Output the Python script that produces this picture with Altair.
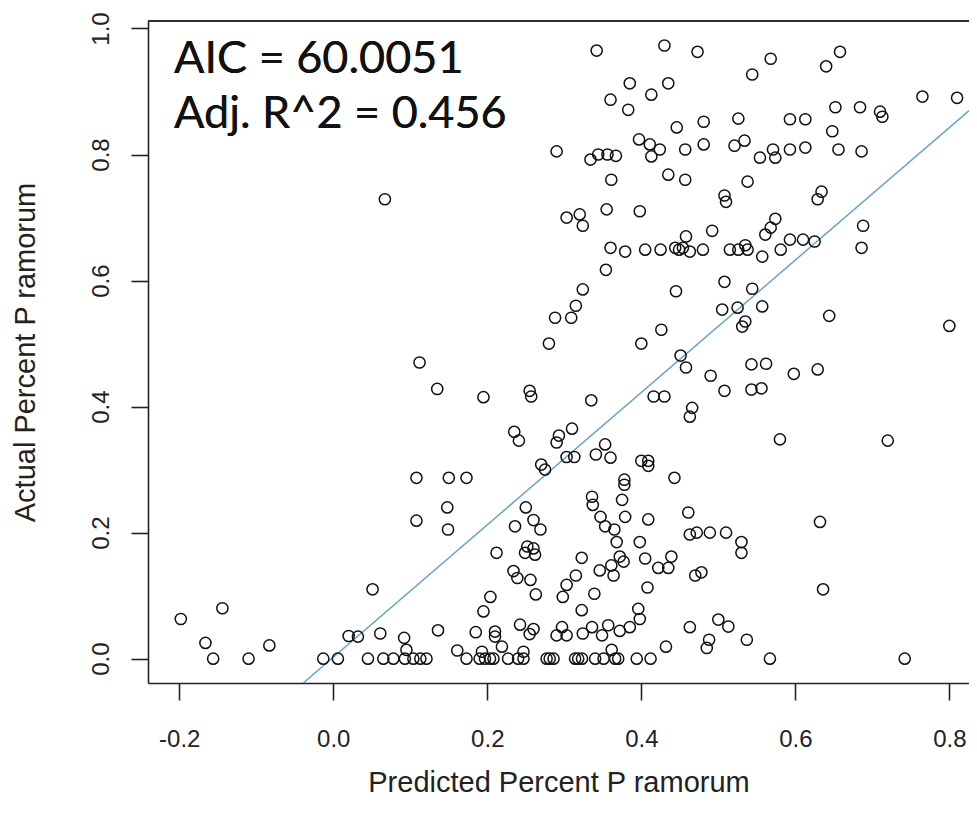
import altair as alt
import pandas as pd

# ---- data ----
pred = [
    -0.198, -0.144, -0.166, -0.156, -0.110, -0.083, 0.051, -0.013, 0.006, 0.020, 0.032, 0.061, 0.092, 0.095, 0.136,
    0.045, 0.065, 0.078, 0.093, 0.104, 0.113, 0.121,
    0.173, 0.190, 0.197, 0.2035, 0.208, 0.227, 0.240, 0.247, 0.277, 0.281, 0.286, 0.314, 0.318, 0.323, 0.340, 0.351,
    0.366, 0.370, 0.394, 0.412, 0.567, 0.742,
    0.161, 0.193, 0.219, 0.247, 0.3615, 0.432, 0.485, 0.488, 0.537,
    0.185, 0.210, 0.210, 0.2425, 0.255, 0.260, 0.290, 0.297, 0.303, 0.324, 0.336, 0.349, 0.357, 0.372, 0.385, 0.398,
    0.396, 0.463, 0.500, 0.513,
    0.195, 0.3226, 0.204, 0.263, 0.298, 0.339, 0.408, 0.303, 0.315, 0.234, 0.239, 0.256, 0.346, 0.361, 0.364, 0.372,
    0.377, 0.405, 0.422, 0.435, 0.439, 0.470, 0.478, 0.212, 0.249, 0.252, 0.3226, 0.368, 0.398, 0.530, 0.530,
    0.636, 0.632, 0.720, 0.800,
    # upper region
    0.342, 0.430, 0.473, 0.544, 0.568, 0.640, 0.658, 0.810, 0.360, 0.385, 0.413, 0.435, 0.383,
    0.290, 0.334, 0.344, 0.356, 0.367, 0.361, 0.397, 0.411, 0.413, 0.424, 0.435, 0.446, 0.457, 0.457, 0.481, 0.481,
    0.526, 0.521, 0.534, 0.538, 0.554, 0.571, 0.574, 0.593, 0.593, 0.613, 0.613, 0.648, 0.652, 0.656, 0.684, 0.686,
    0.710, 0.713, 0.765,
    0.067, 0.303, 0.320, 0.324, 0.355, 0.398, 0.354, 0.360, 0.379, 0.405, 0.425, 0.444, 0.449, 0.454, 0.458, 0.463,
    0.480, 0.492, 0.508, 0.510, 0.508, 0.515, 0.526, 0.535, 0.538, 0.557, 0.561, 0.568, 0.574, 0.581, 0.593, 0.610,
    0.625, 0.629, 0.634, 0.688, 0.686,
    0.280, 0.288, 0.309, 0.315, 0.324, 0.400, 0.426, 0.445, 0.505, 0.525, 0.535, 0.531, 0.544, 0.557, 0.543, 0.451,
    0.458, 0.490, 0.508, 0.543, 0.556, 0.562, 0.598, 0.629, 0.644, 0.416, 0.430, 0.112, 0.135, 0.195, 0.255, 0.257,
    0.335, 0.466, 0.463, 0.580,
    0.235, 0.241, 0.290, 0.293, 0.310, 0.270, 0.275, 0.303, 0.313, 0.341, 0.353, 0.360, 0.378, 0.378, 0.336, 0.337,
    0.347, 0.375, 0.379, 0.365, 0.353, 0.409, 0.409, 0.409, 0.400, 0.443, 0.461, 0.463, 0.472, 0.489, 0.510, 0.108,
    0.150, 0.173, 0.148, 0.149, 0.108, 0.250, 0.236, 0.260, 0.269, 0.260, 0.262,
]
actual = [
    0.063, 0.080, 0.025, 0.0, 0.0, 0.021, 0.110, 0.0, 0.0, 0.036, 0.035, 0.040, 0.033, 0.014, 0.045,
    0.0, 0.0, 0.0, 0.0, 0.0, 0.0, 0.0,
    0.0, 0.0, 0.0, 0.0, 0.0, 0.0, 0.0, 0.0, 0.0, 0.0, 0.0, 0.0, 0.0, 0.0, 0.0, 0.0,
    0.0, 0.0, 0.0, 0.0, 0.0, 0.0,
    0.013, 0.011, 0.019, 0.011, 0.014, 0.019, 0.017, 0.030, 0.030,
    0.042, 0.043, 0.035, 0.054, 0.039, 0.047, 0.037, 0.050, 0.037, 0.040, 0.050, 0.037, 0.053, 0.044, 0.050, 0.063,
    0.079, 0.050, 0.062, 0.051,
    0.075, 0.077, 0.098, 0.102, 0.098, 0.103, 0.113, 0.117, 0.132, 0.139, 0.128, 0.125, 0.140, 0.148, 0.132, 0.162,
    0.154, 0.159, 0.144, 0.144, 0.162, 0.132, 0.137, 0.168, 0.168, 0.178, 0.160, 0.185, 0.185, 0.185, 0.168,
    0.110, 0.217, 0.346, 0.528,
    0.965, 0.973, 0.963, 0.927, 0.952, 0.940, 0.963, 0.890, 0.887, 0.913, 0.895, 0.913, 0.871,
    0.805, 0.792, 0.800, 0.800, 0.798, 0.760, 0.824, 0.816, 0.797, 0.808, 0.768, 0.843, 0.808, 0.760, 0.852, 0.816,
    0.857, 0.814, 0.822, 0.757, 0.795, 0.808, 0.795, 0.856, 0.808, 0.856, 0.811, 0.837, 0.875, 0.808, 0.875, 0.805,
    0.868, 0.860, 0.892,
    0.729, 0.700, 0.705, 0.687, 0.713, 0.710, 0.617, 0.652, 0.646, 0.649, 0.649, 0.652, 0.649, 0.652, 0.670, 0.646,
    0.649, 0.679, 0.735, 0.725, 0.598, 0.649, 0.649, 0.656, 0.649, 0.638, 0.673, 0.684, 0.698, 0.649, 0.665, 0.665,
    0.662, 0.729, 0.741, 0.687, 0.652,
    0.500, 0.541, 0.541, 0.560, 0.586, 0.500, 0.522, 0.583, 0.554, 0.557, 0.535, 0.527, 0.587, 0.559, 0.467, 0.481,
    0.462, 0.449, 0.425, 0.427, 0.429, 0.468, 0.452, 0.459, 0.544, 0.416, 0.416, 0.470, 0.428, 0.415, 0.425, 0.416,
    0.410, 0.398, 0.384, 0.348,
    0.360, 0.346, 0.343, 0.354, 0.365, 0.308, 0.300, 0.320, 0.320, 0.324, 0.340, 0.319, 0.276, 0.284, 0.257, 0.244,
    0.225, 0.252, 0.225, 0.205, 0.210, 0.314, 0.306, 0.221, 0.314, 0.287, 0.232, 0.197, 0.200, 0.200, 0.200, 0.287,
    0.287, 0.287, 0.240, 0.205, 0.219, 0.240, 0.210, 0.220, 0.205, 0.175, 0.165,
]

# fitted line (read at both ends of the visible segment)
fit_x = [-0.039, 0.826]
fit_y = [-0.0386, 0.870]

x_ticks = [-0.2, 0.0, 0.2, 0.4, 0.6, 0.8]
y_ticks = [0.0, 0.2, 0.4, 0.6, 0.8, 1.0]

stats_line1 = "AIC = 60.0051"
stats_line2 = "Adj. R^2 = 0.456"

# ---- chart ----
W, H = 821, 662
X_DOM = [-0.2406, 0.8255]
Y_DOM = [-0.0386, 1.0119]

pts = pd.DataFrame({"pred": pred, "actual": actual})
fit = pd.DataFrame({"pred": fit_x, "actual": fit_y})

xscale = alt.Scale(domain=X_DOM, nice=False, zero=False)
yscale = alt.Scale(domain=Y_DOM, nice=False, zero=False)

label_expr = "datum.value < 0 ? '-' + format(-datum.value, '.1f') : format(datum.value, '.1f')"

xaxis = alt.Axis(
    title="Predicted Percent P ramorum", values=x_ticks, labelExpr=label_expr,
    grid=False, domainColor="#222", domainWidth=1.6, tickColor="#222", tickWidth=1.6, tickSize=17,
    labelFont="Liberation Sans", labelFontSize=24, labelColor="#222", labelPadding=27,
    titleFont="Liberation Sans", titleFontSize=29, titleFontWeight="normal", titleColor="#222",
    titlePadding=17, labelFlush=False,
)
yaxis = alt.Axis(
    title="Actual Percent P ramorum", values=y_ticks, labelExpr=label_expr,
    grid=False, domainColor="#222", domainWidth=1.6, tickColor="#222", tickWidth=1.6, tickSize=17,
    labelFont="Liberation Sans", labelFontSize=24, labelColor="#222", labelPadding=23,
    labelAngle=-90, labelAlign="center", labelBaseline="alphabetic", labelFlush=False,
    titleFont="Liberation Sans", titleFontSize=29, titleFontWeight="normal", titleColor="#222",
    titleAngle=-90, titleBaseline="alphabetic", titleX=-114, titleY=H / 2, titleAlign="center",
)

points = alt.Chart(pts).mark_point(
    shape="circle", filled=False, color="#111", size=125, strokeWidth=1.5, opacity=1
).encode(
    x=alt.X("pred:Q", scale=xscale, axis=xaxis),
    y=alt.Y("actual:Q", scale=yscale, axis=yaxis),
)

line = alt.Chart(fit).mark_line(color="#6aa3cc", strokeWidth=1.5, clip=True).encode(
    x=alt.X("pred:Q", scale=xscale, axis=xaxis),
    y=alt.Y("actual:Q", scale=yscale, axis=yaxis),
)

top_border = alt.Chart(fit).mark_rule(color="#222", strokeWidth=1.6).encode(
    x=alt.value(0), x2=alt.value(W), y=alt.value(0)
)

stats1 = alt.Chart(fit).mark_text(
    align="left", baseline="alphabetic", font="Lato", fontSize=45, color="#111", text=stats_line1
).encode(x=alt.value(26), y=alt.value(52))
stats2 = alt.Chart(fit).mark_text(
    align="left", baseline="alphabetic", font="Lato", fontSize=45, color="#111", text=stats_line2
).encode(x=alt.value(26), y=alt.value(107))

chart = alt.layer(line, points, top_border, stats1, stats2).properties(
    width=W, height=H,
    autosize=alt.AutoSizeParams(type="none"),
    padding={"left": 140, "top": 13, "right": 0, "bottom": 140},
).configure_view(stroke=None)

chart.save("out.html", embed_options={"renderer": "svg", "actions": False})
